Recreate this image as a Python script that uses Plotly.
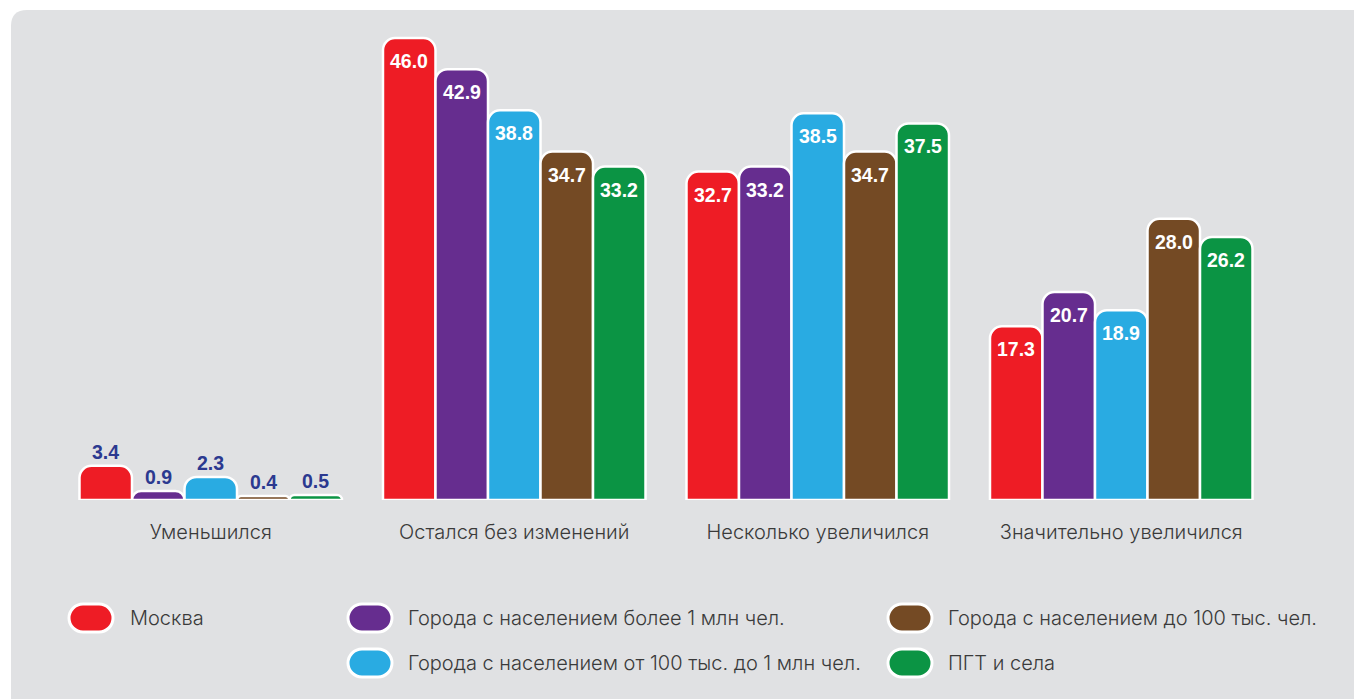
import plotly.graph_objects as go

categories = ["Уменьшился", "Остался без изменений", "Несколько увеличился", "Значительно увеличился"]
series_names = [
    "Москва",
    "Города с населением более 1 млн чел.",
    "Города с населением от 100 тыс. до 1 млн чел.",
    "Города с населением до 100 тыс. чел.",
    "ПГТ и села",
]
moscow = [3.4, 46.0, 32.7, 17.3]
over_1m = [0.9, 42.9, 33.2, 20.7]
from_100k_to_1m = [2.3, 38.8, 38.5, 18.9]
under_100k = [0.4, 34.7, 34.7, 28.0]
villages = [0.5, 33.2, 37.5, 26.2]
series_values = [moscow, over_1m, from_100k_to_1m, under_100k, villages]
colors = ["#ee1c25", "#662d8f", "#29abe2", "#744a24", "#0b9444"]

# page has an 8px body margin; work in reference-pixel coordinates shifted by it
OFF = 8
W, H = 1362 - OFF, 699 - OFF
ML, MR, MT, MB = 51, 89, 20, 199
PW, PH = W - ML - MR, H - MT - MB
BARGAP = 0.135
bar_px = PW / len(categories) * (1 - BARGAP) / len(series_names)

def px_x(x):
    return (x - OFF - ML) / PW

def px_y(y):
    return (H - MB - (y - OFF)) / PH

LABEL_FONT = "Liberation Sans"
fig = go.Figure()
annotations = []
for i, (name, vals, col) in enumerate(zip(series_names, series_values, colors)):
    fig.add_trace(go.Bar(
        x=categories, y=vals, name=name,
        marker=dict(color=col, line=dict(color="white", width=2.5), cornerradius=12),
        showlegend=False,
        hoverinfo="skip",
    ))
    for cat, v in zip(categories, vals):
        inside = v >= 5
        annotations.append(dict(
            x=cat, y=v, xref="x", yref="y",
            xshift=(i - 2) * bar_px, yshift=-23 if inside else 14,
            xanchor="center", yanchor="middle", showarrow=False,
            text=f"{v:.1f}",
            font=dict(size=19.5, family=LABEL_FONT, weight="bold",
                      color="white" if inside else "#2b3990"),
        ))

shapes = []
# grey panel with rounded top-left corner
x0, x1 = px_x(11), px_x(1370)
y0, y1 = px_y(710), px_y(10)
rx, ry = 16 / PW, 16 / PH
shapes.append(dict(
    type="path", xref="paper", yref="paper", layer="below",
    path=(f"M {x0},{y0} L {x0},{y1 - ry} Q {x0},{y1} {x0 + rx},{y1} "
          f"L {x1},{y1} L {x1},{y0} Z"),
    fillcolor="#e0e1e3", line=dict(width=0),
))

# legend pills + labels (series order: Москва, >1млн, 100тыс-1млн, <100тыс, ПГТ)
legend_pos = [
    (91, 618, 130),
    (370, 618, 408),
    (370, 663, 408),
    (910, 618, 948),
    (910, 663, 948),
]
pill = ("M -8,-14 L 8,-14 C 15.7,-14 22,-7.7 22,0 C 22,7.7 15.7,14 8,14 "
        "L -8,14 C -15.7,14 -22,7.7 -22,0 C -22,-7.7 -15.7,-14 -8,-14 Z")
for (cx, cy, tx), name, col in zip(legend_pos, series_names, colors):
    shapes.append(dict(
        type="path", xref="paper", yref="paper",
        xsizemode="pixel", ysizemode="pixel",
        xanchor=px_x(cx), yanchor=px_y(cy),
        path=pill, fillcolor=col, line=dict(color="white", width=3),
    ))
    annotations.append(dict(
        xref="paper", yref="paper", x=px_x(tx), y=px_y(cy),
        xanchor="left", yanchor="middle", showarrow=False, xshift=-2,
        text=name, font=dict(size=20, color="#3a3a3a", family="Inter", weight=300),
    ))

fig.update_layout(
    width=W, height=H,
    margin=dict(l=ML, r=MR, t=MT, b=MB),
    paper_bgcolor="white", plot_bgcolor="rgba(0,0,0,0)",
    barmode="group", bargap=BARGAP, bargroupgap=0,
    xaxis=dict(showgrid=False, zeroline=False, showline=False, ticks="",
               tickfont=dict(size=20, color="#3a3a3a", family="Inter", weight=300),
               ticklabelstandoff=18, fixedrange=True),
    yaxis=dict(range=[0, 47], visible=False, showgrid=False, zeroline=False, fixedrange=True),
    shapes=shapes, annotations=annotations,
)

fig.write_html("out.html")
